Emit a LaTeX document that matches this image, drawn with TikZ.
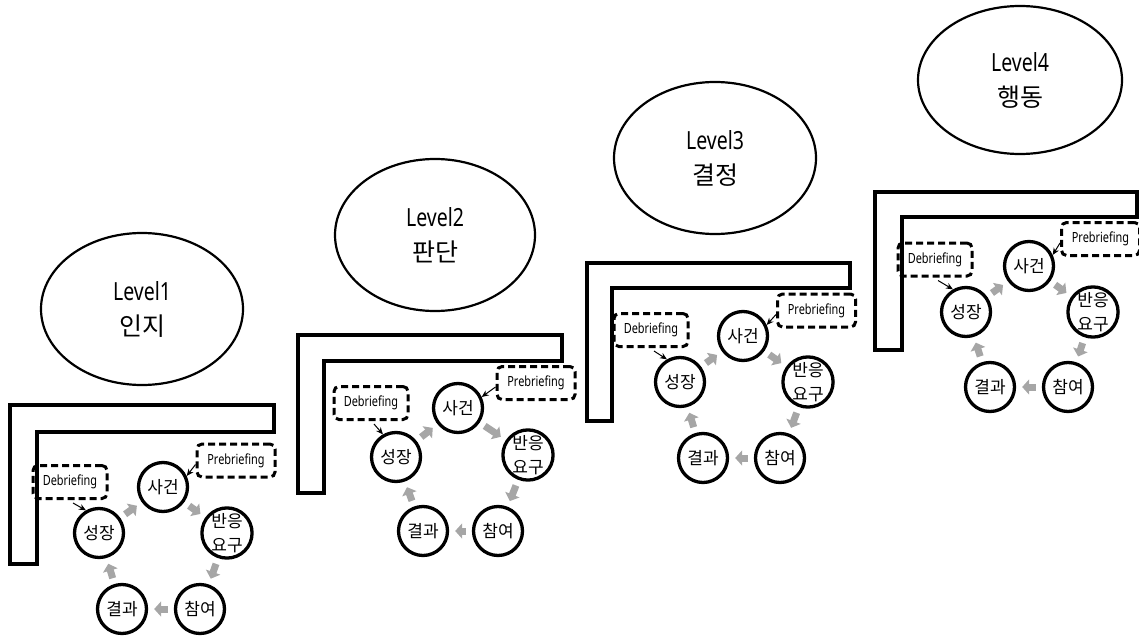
\documentclass[tikz,border=0pt]{standalone}
\usepackage{fontspec}
\setmainfont{Noto Sans}[FakeStretch=0.78]
\newfontfamily\kr{Noto Sans CJK KR}
\usetikzlibrary{shapes.geometric,arrows.meta}
\definecolor{arrgray}{HTML}{A6A6A6}
\tikzset{
  circ/.style={circle, draw, line width=3.3pt, minimum size=49pt, inner sep=0pt,
    font=\kr\fontsize{17}{24}\selectfont, align=center},
  lvl/.style={ellipse, draw, line width=2.2pt, inner sep=0pt, align=center,
    font=\fontsize{25}{35}\selectfont},
  dbox/.style={draw, line width=3pt, dash pattern=on 7pt off 4pt,
    rounded corners=5pt, minimum height=33pt, inner sep=0pt,
    font=\fontsize{14}{14}\selectfont},
  garrow/.style={draw=arrgray, line width=7pt, -{Triangle[length=7pt,width=15pt]},
    shorten <=6pt, shorten >=6pt},
  tarrow/.style={draw=black, line width=1pt, -{Stealth[length=7pt,width=6pt]}},
  bracket/.style={draw, line width=3.3pt, line join=miter}
}
\newcommand\cyc[8]{%
  \node[circ] (#1a) at (#2) {사건};
  \node[circ] (#1b) at (#3) {반응\\요구};
  \node[circ] (#1c) at (#4) {참여};
  \node[circ] (#1d) at (#5) {결과};
  \node[circ] (#1e) at (#6) {성장};
  \node[dbox, minimum width=74pt] (#1f) at (#7) {Debriefing};
  \node[dbox, minimum width=78pt] (#1g) at (#8) {Prebriefing};
  \draw[garrow] (#1e) -- (#1a);
  \draw[garrow] (#1a) -- (#1b);
  \draw[garrow] (#1b) -- (#1c);
  \draw[garrow] (#1c) -- (#1d);
  \draw[garrow] (#1d) -- (#1e);
  \draw[tarrow] ([xshift=3pt,yshift=-3pt]#1f.south) -- (#1e.120);
  \draw[tarrow] ([yshift=-4pt]#1g.west) -- (#1a.25);
}
\begin{document}
\begin{tikzpicture}[x=1pt,y=-1pt]
\useasboundingbox (0,0) rectangle (1139,639);
% Level ellipses
\node[lvl, minimum width=202pt, minimum height=152pt] (l1) at (142,309) {Level1\\{\kr 인지}};
\node[lvl, minimum width=200pt, minimum height=152pt] (l2) at (435,235) {Level2\\{\kr 판단}};
\node[lvl, minimum width=202pt, minimum height=152pt] (l3) at (715,158) {Level3\\{\kr 결정}};
\node[lvl, minimum width=204pt, minimum height=148pt] (l4) at (1020,80) {Level4\\{\kr 행동}};
% brackets
\draw[bracket] (10,405) -- (274,405) -- (274,432) -- (37,432) -- (37,564) -- (10,564) -- cycle;
\draw[bracket] (298,335) -- (562,335) -- (562,361) -- (324,361) -- (324,493) -- (298,493) -- cycle;
\draw[bracket] (587,263) -- (850,263) -- (850,288) -- (612,288) -- (612,421) -- (587,421) -- cycle;
\draw[bracket] (875,192) -- (1137,192) -- (1137,217) -- (902,217) -- (902,350) -- (875,350) -- cycle;
% cycles
\cyc{p}{163,487}{227,533}{200,609}{122,609}{99,533}{70,482}{236,460.5}
\cyc{q}{458,408}{528,455}{498,531}{423,531}{396,457}{371,403}{536,383}
\cyc{r}{743,336}{808,382}{780,458}{703,458}{680,382}{651,330}{816.5,310.5}
\cyc{s}{1029,266}{1093,312}{1068,387}{990,387}{966,312}{935,259.5}{1100.5,239}
\end{tikzpicture}
\end{document}
